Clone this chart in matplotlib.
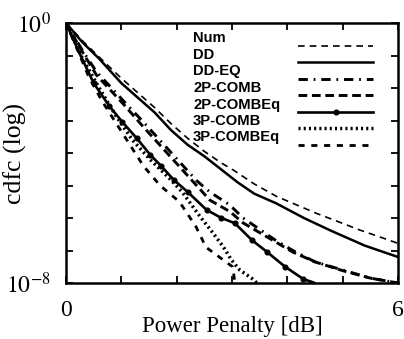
import numpy as np
import matplotlib
matplotlib.use("Agg")
import matplotlib.pyplot as plt
from matplotlib.ticker import FixedLocator, FixedFormatter, NullLocator

# ---------------- data (log10 of cdfc vs power penalty in dB) ----------------
num_x = [0, 0.3, 0.6, 1.0, 1.3, 1.6, 1.9, 2.2, 2.5, 2.8, 3.02, 3.4, 3.81, 4.2, 4.53, 4.9, 5.31, 5.7, 6.0]
num_y = [0, -0.55, -1.05, -1.7, -2.15, -2.6, -3.1, -3.55, -3.95, -4.3, -4.52, -4.95, -5.34, -5.62, -5.86, -6.1, -6.37, -6.6, -6.78]

dd_x = [0, 0.3, 0.6, 1.0, 1.3, 1.6, 1.9, 2.2, 2.5, 2.8, 3.1, 3.4, 3.8, 4.3, 4.8, 5.4, 6.0]
dd_y = [0, -0.6, -1.1, -1.85, -2.3, -2.75, -3.3, -3.75, -4.1, -4.5, -4.9, -5.25, -5.55, -6.0, -6.4, -6.85, -7.2]

ddeq_x = [0, 0.3, 0.55, 1.04, 1.4, 1.88, 2.36, 2.6, 2.96, 3.2, 3.5, 3.8, 4.1, 4.5, 5.0, 5.5, 6.0]
ddeq_y = [0, -0.85, -1.5, -2.4, -3.05, -3.95, -4.85, -5.2, -5.6, -6.0, -6.35, -6.7, -7.0, -7.35, -7.6, -7.85, -8.0]

comb2_x = [0, 0.3, 0.55, 1.04, 1.4, 1.88, 2.36, 2.6, 2.96, 3.2, 3.5, 3.8, 4.1, 4.5, 5.0, 5.5, 6.0]
comb2_y = [0, -0.9, -1.6, -2.5, -3.2, -4.1, -5.0, -5.45, -5.8, -6.15, -6.45, -6.75, -7.05, -7.35, -7.62, -7.85, -8.0]

comb2eq_x = [0, 0.25, 0.5, 0.78, 1.02, 1.28, 1.52, 1.72, 1.95, 2.2, 2.54, 2.81, 3.05, 3.36, 3.63, 3.96, 4.29, 4.5]
comb2eq_y = [0, -0.95, -1.85, -2.55, -3.05, -3.55, -4.05, -4.4, -4.83, -5.2, -5.75, -6.0, -6.16, -6.68, -7.04, -7.5, -7.88, -8.0]

comb3_x = [0, 0.3, 0.6, 0.9, 1.2, 1.52, 1.88, 2.1, 2.42, 2.66, 2.84, 2.99, 3.14, 3.36, 3.45]
comb3_y = [0, -1.1, -2.0, -2.85, -3.6, -4.2, -4.8, -5.2, -5.95, -6.47, -6.88, -7.29, -7.6, -7.86, -8.0]

comb3eq_x = [0, 0.2, 0.41, 0.65, 0.83, 1.1, 1.4, 1.7, 2.05, 2.35, 2.53, 2.77, 3.01, 3.05]
comb3eq_y = [0, -0.8, -1.65, -2.4, -2.88, -3.6, -4.4, -5.0, -5.5, -6.27, -6.9, -7.2, -7.5, -7.95]

labels = ["Num", "DD", "DD-EQ", "2P-COMB", "2P-COMBEq", "3P-COMB", "3P-COMBEq"]

x_ticks = [0, 1, 2, 3, 4, 5, 6]
x_tick_labels = ["0", "", "", "", "", "", "6"]
y_tick_exps = [-8, -7, -6, -5, -4, -3, -2, -1, 0]
y_tick_labels = [r"$10^{-8}$", "", "", "", "", "", "", "", r"$10^{0}$"]

# ---------------- styles ----------------
styles = [
    dict(color="black", lw=1.2, dashes=(4, 3)),
    dict(color="black", lw=1.8, linestyle="-"),
    dict(color="black", lw=2.1, dashes=(3.2, 2.0, 0.6, 2.0)),
    dict(color="black", lw=2.1, dashes=(3.0, 1.6)),
    dict(color="black", lw=1.9, linestyle="-", marker="o", markersize=3.4),
    dict(color="black", lw=2.5, dashes=(0.6, 0.9)),
    dict(color="black", lw=2.0, dashes=(2.2, 2.4)),
]

plt.rcParams["mathtext.fontset"] = "stix"
serif = "Liberation Serif"

fig = plt.figure(figsize=(4.04, 3.39), dpi=100)
ax = fig.add_axes([66 / 404, 56 / 339, 332 / 404, 260 / 339])

series = [(num_x, num_y), (dd_x, dd_y), (ddeq_x, ddeq_y), (comb2_x, comb2_y),
          (comb2eq_x, comb2eq_y), (comb3_x, comb3_y), (comb3eq_x, comb3eq_y)]

for (xs, ys), st, lab in zip(series, styles, labels):
    yv = 10.0 ** np.asarray(ys, dtype=float)
    kw = dict(st)
    if lab == "2P-COMBEq":
        kw["markevery"] = slice(2, -1)
    ax.plot(xs, yv, label=lab, solid_capstyle="butt", dash_capstyle="butt", **kw)

ax.set_yscale("log")
ax.set_xlim(0, 6)
ax.set_ylim(1e-8, 1)

ax.xaxis.set_major_locator(FixedLocator(x_ticks))
ax.xaxis.set_major_formatter(FixedFormatter(x_tick_labels))
ax.yaxis.set_major_locator(FixedLocator([10.0 ** e for e in y_tick_exps]))
ax.yaxis.set_major_formatter(FixedFormatter(y_tick_labels))
ax.yaxis.set_minor_locator(NullLocator())
ax.xaxis.set_minor_locator(NullLocator())

ax.tick_params(axis="both", which="major", direction="in", length=5, width=1.3,
               top=True, right=True, labelsize=17)
ax.tick_params(axis="x", pad=12)
ax.tick_params(axis="y", pad=11)
for lab in ax.get_xticklabels() + ax.get_yticklabels():
    lab.set_fontfamily(serif)
for sp in ax.spines.values():
    sp.set_linewidth(1.8)

ax.set_xlabel("Power Penalty [dB]", fontsize=16.5, family=serif)
ax.xaxis.set_label_coords(0.5, -0.128)
ax.set_ylabel("cdfc (log)", fontsize=18.5, family=serif)
ax.yaxis.set_label_coords(-0.118, 0.5)

# ---------------- legend (text left, sample right) ----------------
x_text = (193 - 66) / 332
x0, x1 = (298 - 66) / 332, (373 - 66) / 332
y_first = (283 - 38.5) / 260
dy = 16.5 / 260
line_off = 7 / 260
for i, (lab, st) in enumerate(zip(labels, styles)):
    yc = y_first - i * dy
    ax.text(x_text, yc, lab, transform=ax.transAxes, fontsize=10.6,
            family="Liberation Sans", fontweight="bold", va="center", ha="left")
    kw = dict(st)
    if "marker" in kw:
        ax.plot([x0, (x0 + x1) / 2, x1], [yc - line_off] * 3, transform=ax.transAxes,
                markevery=[1], **kw)
    else:
        ax.plot([x0, x1], [yc - line_off] * 2, transform=ax.transAxes,
                dash_capstyle="butt", **kw)

fig.savefig("out.png", dpi=100)
